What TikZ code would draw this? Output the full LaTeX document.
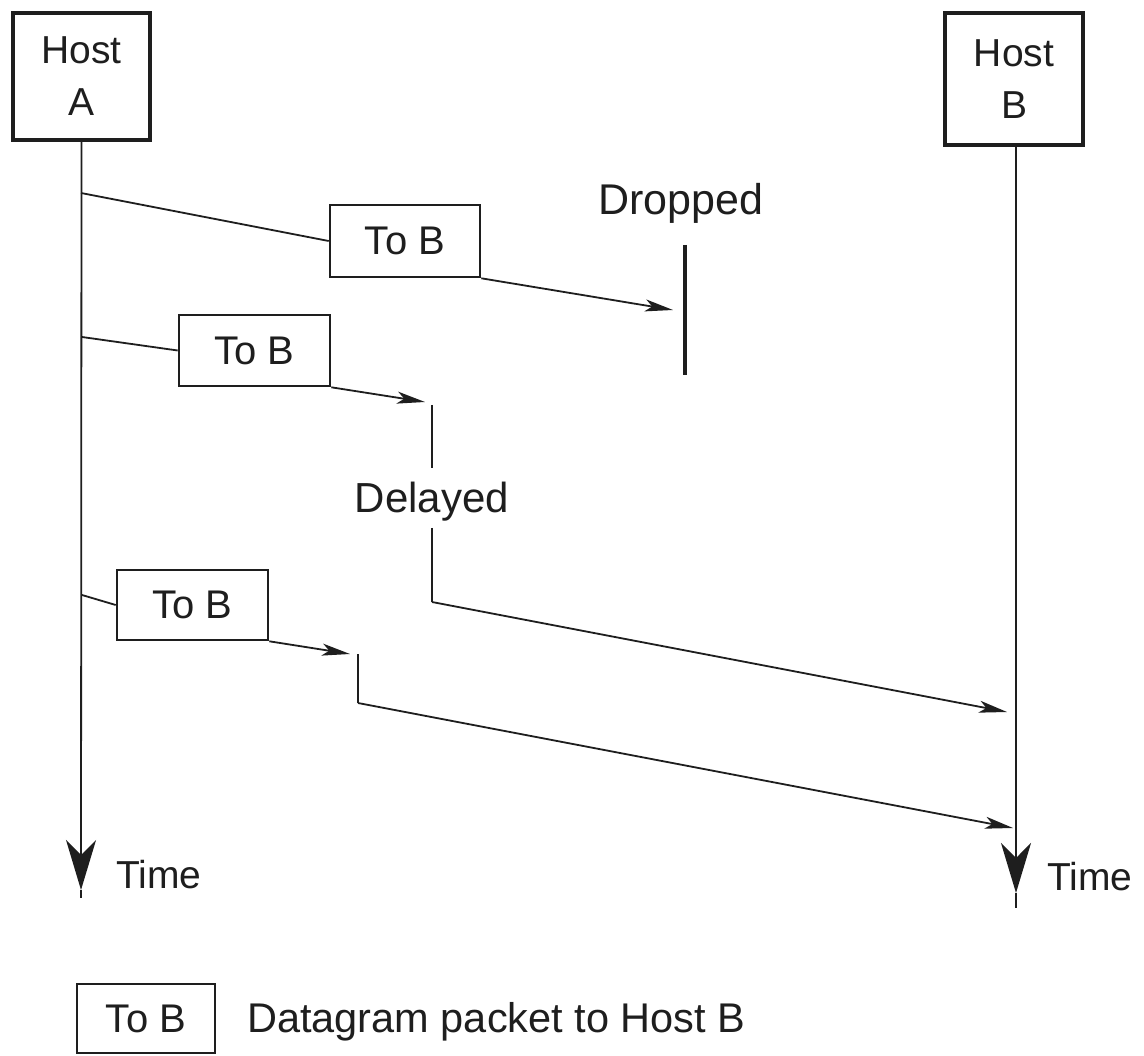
\documentclass[tikz,border=0pt]{standalone}
\usepackage{fontspec}
\setmainfont{Liberation Sans}
\usetikzlibrary{arrows.meta}
\definecolor{ink}{HTML}{1E1E1E}
\tikzset{
  hostbox/.style={draw=ink, line width=3.6pt, align=center, text=ink,
    font=\fontsize{39}{52}\selectfont, inner sep=0pt},
  pktbox/.style={draw=ink, line width=2.6pt, text=ink,
    font=\fontsize{40}{48}\selectfont, inner sep=0pt},
  lbl/.style={text=ink, inner sep=0pt},
  wire/.style={draw=ink, line width=1.8pt},
  msg/.style={wire, -{Stealth[length=28pt,width=12pt,inset=7pt]}},
  timearrow/.style={wire, -{Stealth[length=50pt,width=30pt,inset=15pt]}},
  dropbar/.style={draw=ink, line width=3.4pt}
}
\begin{document}
\begin{tikzpicture}[x=1pt,y=-1pt]
\useasboundingbox (0,0) rectangle (1144,1056);
\fill[white] (0,0) rectangle (1144,1056);

% hosts
\node[hostbox, minimum width=137pt, minimum height=127pt] (hostA) at (81.5,76.5) {Host\\A};
\node[hostbox, minimum width=138pt, minimum height=132pt] (hostB) at (1014,79) {Host\\B};

% lifelines
\coordinate (Atip) at (81,890);
\coordinate (Aend) at (81,898);
\coordinate (Btip) at (1016,893);
\coordinate (Bend) at (1016,908);
\draw[timearrow] (hostA.south) -- (Atip);
\draw[wire] (Atip) -- (Aend);
\draw[timearrow] (hostB.south -| Btip) -- (Btip);
\draw[wire] (Btip) -- (Bend);
\node[lbl, anchor=base west, font=\fontsize{39}{46}\selectfont] (timeA) at (116,888) {Time};
\node[lbl, anchor=base west, font=\fontsize{39}{46}\selectfont] (timeB) at (1047,890) {Time};

% packet 1 (dropped)
\coordinate (s1) at (81,193);
\node[pktbox, minimum width=150pt, minimum height=72pt] (p1) at (405,241) {To B};
\coordinate (dropin) at (673,310);
\coordinate (d1) at (685,245);
\coordinate (d2) at (685,375);
\draw[wire] (s1) -- (p1.west);
\draw[msg] (p1.south east) -- (dropin);
\draw[dropbar] (d1) -- (d2);
\node[lbl, anchor=base, font=\fontsize{43}{50}\selectfont] (dropped) at (681,215) {Dropped};

% packet 2 (delayed)
\coordinate (s2) at (82,337);
\node[pktbox, minimum width=151pt, minimum height=71pt] (p2) at (254.5,350.5) {To B};
\coordinate (q2a) at (425,402);
\coordinate (q2b) at (432,405);
\coordinate (q2c) at (432,468);
\coordinate (q2d) at (432,528);
\coordinate (q2e) at (432,602);
\coordinate (r2) at (1007,712);
\draw[wire] (s2) -- (p2.west);
\draw[msg] (p2.south east) -- (q2a);
\draw[wire] (q2b) -- (q2c);
\node[lbl, anchor=base, font=\fontsize{42}{50}\selectfont] (delayed) at (432,512) {Delayed};
\draw[wire] (q2d) -- (q2e);
\draw[msg] (q2e) -- (r2);

% packet 3
\coordinate (s3) at (82,595);
\node[pktbox, minimum width=151pt, minimum height=70pt] (p3) at (192.5,605) {To B};
\coordinate (q3a) at (350,654);
\coordinate (q3b) at (358,654);
\coordinate (q3c) at (358,703);
\coordinate (r3) at (1013,828);
\draw[wire] (s3) -- (p3.west);
\draw[msg] (p3.south east) -- (q3a);
\draw[wire] (q3b) -- (q3c);
\draw[msg] (q3c) -- (r3);

% legend
\node[pktbox, minimum width=138pt, minimum height=69pt] (leg) at (146,1018.5) {To B};
\node[lbl, anchor=base west, font=\fontsize{41.5}{48}\selectfont] (legtext) at (247,1032) {Datagram packet to Host B};
\end{tikzpicture}
\end{document}
